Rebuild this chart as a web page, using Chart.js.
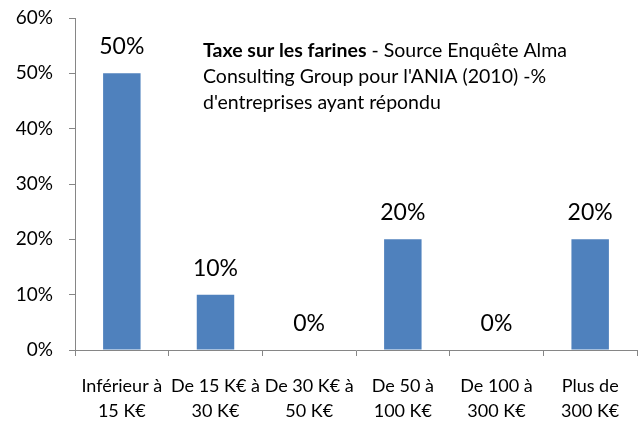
<!DOCTYPE html>
<html><head><meta charset="utf-8">
<script src="https://cdn.jsdelivr.net/npm/chart.js@4"></script>
<style>html,body{margin:0;padding:0;background:#fff}#wrap{width:638px;height:423px}</style>
</head><body><div id="wrap"><canvas id="c" width="638" height="423"></canvas></div>
<script>
const categories = [["Inférieur à","15 K€"],["De 15 K€ à","30 K€"],["De 30 K€ à","50 K€"],["De 50 à","100 K€"],["De 100 à","300 K€"],["Plus de","300 K€"]];
const values = [50, 10, 0, 20, 0, 20];
const yTicks = [0, 10, 20, 30, 40, 50, 60];
const titleBold = "Taxe sur les farines";
const titleLines = [" - Source Enquête Alma", "Consulting Group pour l'ANIA (2010) -%", "d'entreprises ayant répondu"];
const FONT = "Lato, 'Open Sans', sans-serif";

const labelPlugin = {
  id: 'labels',
  afterDatasetsDraw(chart) {
    const ctx = chart.ctx;
    const meta = chart.getDatasetMeta(0);
    ctx.save();
    ctx.fillStyle = '#000';
    ctx.font = '23px ' + FONT;
    ctx.textAlign = 'center';
    ctx.textBaseline = 'alphabetic';
    meta.data.forEach((bar, i) => {
      ctx.fillText(values[i] + '%', bar.x, bar.y - 19);
    });
    ctx.textAlign = 'left';
    ctx.font = 'bold 19.5px ' + FONT;
    const x0 = 203;
    ctx.fillText(titleBold, x0, 57);
    const w = ctx.measureText(titleBold).width;
    ctx.font = '19.5px ' + FONT;
    ctx.fillText(titleLines[0], x0 + w, 57);
    ctx.fillText(titleLines[1], x0, 83);
    ctx.fillText(titleLines[2], x0, 109);
    ctx.restore();
  }
};

new Chart(document.getElementById('c'), {
  type: 'bar',
  data: { labels: categories, datasets: [{ data: values, backgroundColor: '#4F81BD', barPercentage: 0.4, categoryPercentage: 1.0 }] },
  options: {
    responsive: false, animation: false,
    layout: { padding: { top: 18, right: 1, left: 0, bottom: 0 } },
    plugins: { legend: { display: false }, tooltip: { enabled: false } },
    scales: {
      x: {
        grid: { offset: true, drawOnChartArea: false, tickLength: 6, color: '#868686' },
        border: { color: '#868686', width: 1 },
        ticks: { color: '#000', font: { family: FONT, size: 18, lineHeight: 1.38 }, padding: 18, maxRotation: 0, autoSkip: false },
        afterFit(s) { s.height = 73; s.paddingLeft = 0; s.paddingRight = 0; }
      },
      y: {
        min: 0, max: 60,
        afterBuildTicks(s) { s.ticks = yTicks.map(v => ({ value: v })); },
        grid: { drawOnChartArea: false, tickLength: 6, color: '#868686' },
        border: { color: '#868686', width: 1 },
        ticks: { color: '#000', font: { family: FONT, size: 19 }, padding: 16, callback: v => v + '%' },
        afterFit(s) { s.width = 75; s.paddingTop = 0; s.paddingBottom = 0; }
      }
    }
  },
  plugins: [labelPlugin]
});
</script></body></html>
